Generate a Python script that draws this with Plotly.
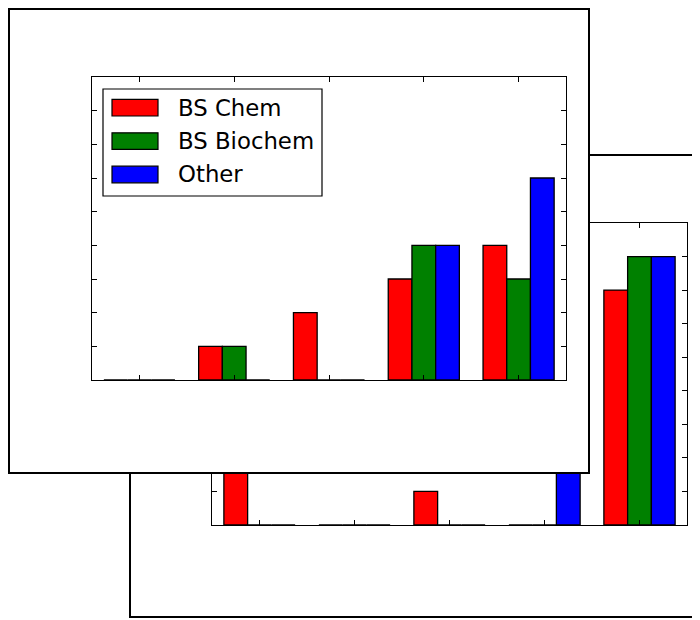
import plotly.graph_objects as go

# ---------------- data ----------------
categories = [0, 1, 2, 3, 4]
series_names = ["BS Chem", "BS Biochem", "Other"]
series_colors = ["#ff0000", "#008000", "#0000ff"]

# front (top) figure
front_bs_chem = [0, 1, 2, 3, 4]
front_bs_biochem = [0, 1, 0, 4, 3]
front_other = [0, 0, 0, 4, 6]

# back figure (partly hidden behind the front one)
back_bs_chem = [3, 0, 1, 0, 7]
back_bs_biochem = [0, 0, 0, 0, 8]
back_other = [0, 0, 0, 3, 8]

y_range = [0, 9]

# ---------------- layout helpers ----------------
PAGE_OFF = 8  # default body margin of the html page
W, H = 700 - PAGE_OFF, 620 - PAGE_OFF


def px(x):
    return (x - PAGE_OFF) / W


def py(y):
    return 1 - (y - PAGE_OFF) / H


fig = go.Figure()

# back chart traces (subplot xy, drawn first)
for name, color, vals in zip(series_names, series_colors,
                             [back_bs_chem, back_bs_biochem, back_other]):
    fig.add_trace(go.Bar(
        x=categories, y=vals, name=name, xaxis="x", yaxis="y",
        marker=dict(color=color, line=dict(color="black", width=1.3)),
        showlegend=False, hoverinfo="skip"))

# cover panel (subplot x2y2): opaque white front figure background
fig.add_trace(go.Scatter(x=[None], y=[None], xaxis="x2", yaxis="y2",
                         showlegend=False, hoverinfo="skip"))

# front chart traces (subplot x3y3)
for name, color, vals in zip(series_names, series_colors,
                             [front_bs_chem, front_bs_biochem, front_other]):
    fig.add_trace(go.Bar(
        x=categories, y=vals, name=name, xaxis="x3", yaxis="y3",
        marker=dict(color=color, line=dict(color="black", width=1.3)),
        showlegend=False, hoverinfo="skip"))


def data_xaxis(domain, anchor):
    return dict(domain=domain, anchor=anchor, range=[-0.5, 4.5],
                tickvals=categories, ticks="inside", ticklen=5, tickwidth=1,
                tickcolor="black", mirror="allticks", showline=True,
                linecolor="black", linewidth=1.2, showgrid=False,
                zeroline=False, showticklabels=False, fixedrange=True)


def data_yaxis(domain, anchor):
    return dict(domain=domain, anchor=anchor, range=y_range, tick0=0, dtick=1,
                ticks="inside", ticklen=5, tickwidth=1, tickcolor="black",
                mirror="allticks", showline=True, linecolor="black",
                linewidth=1.2, showgrid=False, zeroline=False,
                showticklabels=False, fixedrange=True)


def cover_axis(domain, anchor):
    return dict(domain=domain, anchor=anchor, range=[0, 1], showline=True,
                mirror=True, linecolor="black", linewidth=2, ticks="",
                showgrid=False, zeroline=False, showticklabels=False,
                fixedrange=True)


shapes = [
    # back figure frame
    dict(type="rect", xref="paper", yref="paper",
         x0=px(130), x1=px(730), y0=py(617), y1=py(155),
         line=dict(color="black", width=2), fillcolor="rgba(0,0,0,0)",
         layer="below"),
]

# custom legend for the front chart
leg_left, leg_top, leg_right, leg_bottom = 103, 89, 322, 196
row0, row_step = 107.7, 33.4
shapes.append(dict(type="rect", xref="paper", yref="paper",
                   x0=px(leg_left), x1=px(leg_right),
                   y0=py(leg_bottom), y1=py(leg_top),
                   line=dict(color="black", width=1.2), fillcolor="white",
                   layer="above"))
annotations = []
for i, (name, color) in enumerate(zip(series_names, series_colors)):
    cy = row0 + i * row_step
    shapes.append(dict(type="rect", xref="paper", yref="paper",
                       x0=px(112), x1=px(158), y0=py(cy + 8.3), y1=py(cy - 8.3),
                       line=dict(color="black", width=1.2), fillcolor=color,
                       layer="above"))
    annotations.append(dict(xref="paper", yref="paper", x=px(176), y=py(cy),
                            xanchor="left", yanchor="middle", showarrow=False,
                            text=name,
                            font=dict(family="DejaVu Sans", size=22.8,
                                      color="black")))

fig.update_layout(
    width=W, height=H,
    margin=dict(l=0, r=0, t=0, b=0),
    paper_bgcolor="white", plot_bgcolor="white",
    barmode="group", bargap=0.25, bargroupgap=0,
    showlegend=False,
    xaxis=data_xaxis([px(212), px(687)], "y"),
    yaxis=data_yaxis([py(525), py(223)], "x"),
    xaxis2=cover_axis([px(10), px(588)], "y2"),
    yaxis2=cover_axis([py(472), py(10)], "x2"),
    xaxis3=data_xaxis([px(92), px(566)], "y3"),
    yaxis3=data_yaxis([py(380), py(77)], "x3"),
    shapes=shapes,
    annotations=annotations,
    font=dict(family="DejaVu Sans"),
)

fig.write_html("out.html")
